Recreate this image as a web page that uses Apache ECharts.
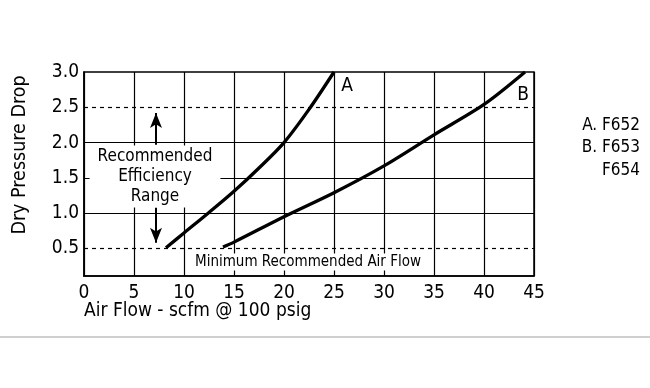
<!DOCTYPE html>
<html><head><meta charset="utf-8">
<script src="https://cdn.jsdelivr.net/npm/echarts@6/dist/echarts.min.js"></script>
<style>html,body{margin:0;padding:0;background:#fff}#c{width:650px;height:388px}</style>
</head><body><div id="c"></div>
<script>
// ---- data ----
const xTickValues = [0, 5, 10, 15, 20, 25, 30, 35, 40, 45];
const yTickValues = [0.5, 1.0, 1.5, 2.0, 2.5, 3.0];
const solidGridY = [1.0, 1.5, 2.0];
const dashedGridY = [0.5, 2.5];
const curveAx = [8.2, 10, 12.5, 15, 17.5, 20, 22.5, 25];
const curveAy = [0.51, 0.72, 1.01, 1.31, 1.64, 2.0, 2.47, 3.0];
const curveBx = [13.9, 15, 20, 25, 30, 35, 40, 44.1];
const curveBy = [0.52, 0.59, 0.95, 1.29, 1.67, 2.11, 2.54, 3.0];
const legendLines = ['A. F652', 'B. F653', 'F654'];
const xTitle = 'Air Flow - scfm @ 100 psig';
const yTitle = 'Dry Pressure Drop';
const rangeText = ['Recommended', 'Efficiency', 'Range'];
const minFlowText = 'Minimum Recommended Air Flow';

const FONT = "'Liberation Sans Narrow','DejaVu Sans Condensed','Roboto Condensed',sans-serif";
const zip = (xs, ys) => xs.map((x, i) => [x, ys[i]]);

const chart = echarts.init(document.getElementById('c'), null, {renderer: 'canvas'});
chart.setOption({
  animation: false,
  backgroundColor: '#fff',
  grid: {left: 84, top: 72, width: 450, height: 204, show: true, borderColor: '#000', borderWidth: 1.5, backgroundColor: 'transparent'},
  xAxis: {
    type: 'value', min: 0, max: 45, interval: 5,
    axisLine: {show: true, lineStyle: {color: '#000', width: 1.5}},
    axisTick: {show: false},
    splitLine: {show: true, lineStyle: {color: '#000', width: 1.2}},
    axisLabel: {color: '#000', fontFamily: FONT, fontSize: 19, margin: 8,
      customValues: xTickValues, formatter: v => String(v)}
  },
  yAxis: {
    type: 'value', min: 0.11, max: 3.0,
    axisLine: {show: true, lineStyle: {color: '#000', width: 1.5}},
    axisTick: {show: false},
    splitLine: {show: false},
    axisLabel: {color: '#000', fontFamily: FONT, fontSize: 19, margin: 5,
      customValues: yTickValues, formatter: v => v.toFixed(1)}
  },
  graphic: [
    {type: 'text', left: 84, top: 302, style: {text: xTitle, font: '19px ' + FONT, fill: '#000'}},
    {type: 'text', x: 20, y: 155, rotation: Math.PI / 2,
      style: {text: yTitle, font: '19.5px ' + FONT, fill: '#000', align: 'center', verticalAlign: 'middle'}},
    {type: 'text', x: 640, y: 114, style: {text: legendLines.join('\n'), font: '17px ' + FONT, fill: '#000', align: 'right', lineHeight: 22.5}},
    {type: 'rect', shape: {x: 0, y: 336, width: 650, height: 2}, style: {fill: '#cfcfcf'}}
  ],
  series: [
    {
      type: 'line', name: 'grid', data: [], z: 1, silent: true,
      markLine: {
        z: 1, silent: true, symbol: ['none', 'none'], label: {show: false},
        data: [
          ...solidGridY.map(v => ({yAxis: v, lineStyle: {color: '#000', width: 1.2, type: 'solid'}})),
          ...dashedGridY.map(v => ({yAxis: v, lineStyle: {color: '#000', width: 1.2, type: [4, 4]}}))
        ]
      }
    },
    {
      type: 'line', name: 'notes', data: [], z: 3, silent: true,
      markPoint: {
        z: 3, symbol: 'rect', symbolSize: 1, itemStyle: {color: 'rgba(0,0,0,0)'},
        data: [
          {coord: [7.1, 1.52], label: {show: true, position: 'inside', formatter: rangeText.join('\n'),
            fontFamily: FONT, fontSize: 17, lineHeight: 20, color: '#000', backgroundColor: '#fff', padding: [1, 8], align: 'center'}},
          {coord: [22.4, 0.31], label: {show: true, position: 'inside', formatter: minFlowText,
            fontFamily: FONT, fontSize: 15, color: '#000', backgroundColor: '#fff', padding: [1, 3]}},
          {coord: [26.3, 2.8], label: {show: true, position: 'inside', formatter: 'A', fontFamily: FONT, fontSize: 19, color: '#000'}},
          {coord: [43.9, 2.68], label: {show: true, position: 'inside', formatter: 'B', fontFamily: FONT, fontSize: 19, color: '#000'}}
        ]
      },
      markLine: {
        z: 3, silent: true, symbol: ['none', 'arrow'], symbolSize: [9, 15], label: {show: false},
        lineStyle: {color: '#000', width: 2, type: 'solid'},
        data: [
          [{coord: [7.2, 1.97]}, {coord: [7.2, 2.42]}],
          [{coord: [7.2, 1.08]}, {coord: [7.2, 0.58]}]
        ]
      }
    },
    {type: 'line', name: 'A', data: zip(curveAx, curveAy), smooth: 0.3, showSymbol: false, z: 6,
      lineStyle: {color: '#000', width: 3.3}},
    {type: 'line', name: 'B', data: zip(curveBx, curveBy), smooth: 0.3, showSymbol: false, z: 6,
      lineStyle: {color: '#000', width: 3.3}}
  ]
});
</script>
</body></html>
